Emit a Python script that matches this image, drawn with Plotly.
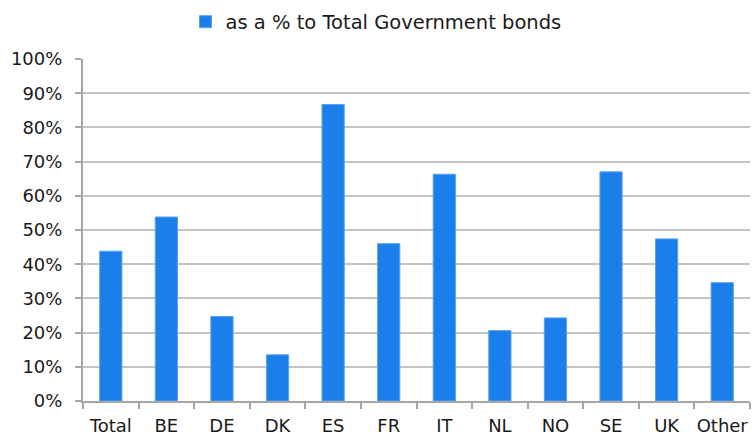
import plotly.graph_objects as go

categories = ["Total", "BE", "DE", "DK", "ES", "FR", "IT", "NL", "NO", "SE", "UK", "Other"]
values = [43.8, 53.8, 24.7, 13.5, 86.7, 46.0, 66.3, 20.6, 24.3, 67.0, 47.4, 34.6]
series_name = "as a % to Total Government bonds"
y_ticks = [0, 10, 20, 30, 40, 50, 60, 70, 80, 90, 100]
y_tick_labels = [f"{v}%" for v in y_ticks]

font_family = "DejaVu Sans"

fig = go.Figure()
fig.add_trace(go.Bar(
    x=categories,
    y=values,
    name=series_name,
    marker=dict(color="#1a7fea", line=dict(color="#5aa2f0", width=1)),
    showlegend=True,
))

fig.update_layout(
    width=752,
    height=434,
    margin=dict(l=83, r=2, t=59, b=33, autoexpand=False),
    paper_bgcolor="white",
    plot_bgcolor="white",
    bargap=0.6,
    font=dict(family=font_family, size=18, color="#1a1a1a"),
    showlegend=True,
    legend=dict(
        orientation="h",
        xref="container", yref="container",
        x=0.5, xanchor="center",
        y=1 - 22 / 434, yanchor="middle",
        font=dict(family=font_family, size=19.5, color="#1a1a1a"),
        itemwidth=30,
        bgcolor="rgba(0,0,0,0)",
    ),
    xaxis=dict(
        showline=True, linecolor="#a6a6a6", linewidth=2,
        ticks="outside", tickson="boundaries", ticklen=6,
        tickcolor="#a6a6a6", tickwidth=1.5,
        showgrid=False,
        tickangle=0, automargin=False,
        ticklabelstandoff=7,
        tickfont=dict(family=font_family, size=18, color="#1a1a1a"),
    ),
    yaxis=dict(
        range=[0, 100],
        tickvals=y_ticks, ticktext=y_tick_labels,
        showline=True, linecolor="#a6a6a6", linewidth=2,
        ticks="outside", ticklen=6, tickcolor="#a6a6a6", tickwidth=1.5,
        showgrid=True, gridcolor="#c4c4c4", gridwidth=1.5,
        zeroline=False, automargin=False,
        ticklabelstandoff=9,
        tickfont=dict(family=font_family, size=18, color="#1a1a1a"),
    ),
)

fig.write_html(
    "out.html",
    config={"displayModeBar": False},
    post_script="document.body.style.margin='0px'; document.body.style.overflow='hidden';",
)
